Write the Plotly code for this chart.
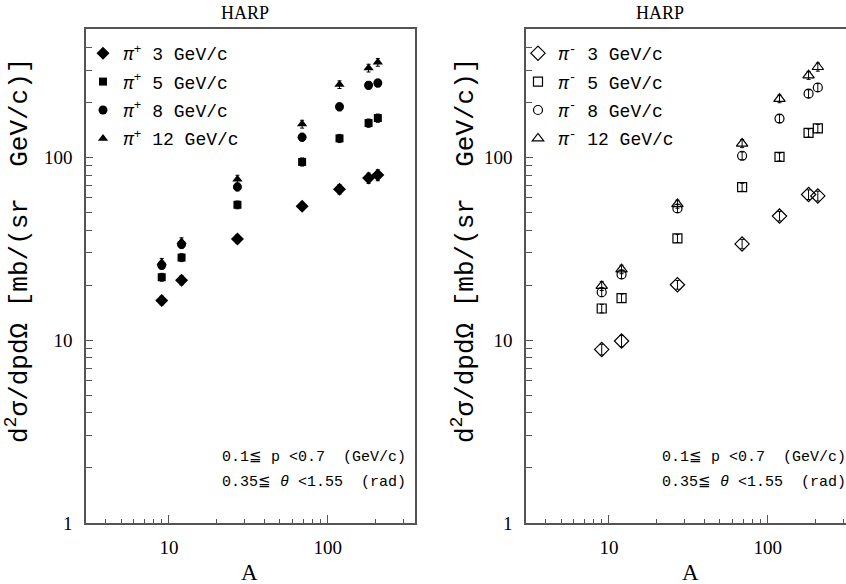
import plotly.graph_objects as go
import math

W, H = 846, 584

# ---- data ----
A = [9, 12, 27, 69, 118.7, 181, 207]

pip3 = [16.5, 21.3, 35.8, 54.0, 67, 77, 80]
pip5 = [22.1, 28.3, 55, 94.4, 127, 154, 164]
pip8 = [25.7, 33.4, 68.9, 129, 189, 248, 255]
pip12 = [26.6, 34.5, 76, 152, 250, 308, 331]

pip3_err = [0.9, 1.2, 1.8, 2.8, 4.0, 5.0, 5.5]
pip5_err = [1.1, 1.4, 2.7, 4.8, 6.5, 8.0, 8.5]
pip8_err = [1.3, 1.7, 3.4, 6.5, 9.5, 12.0, 12.5]
pip12_err = [1.4, 1.8, 3.8, 7.5, 12.0, 15.0, 16.0]

pim3 = [8.9, 9.9, 20.1, 33.6, 47.7, 62.6, 61.5]
pim5 = [14.9, 17.0, 36, 68.7, 100.6, 136, 144]
pim8 = [18.3, 22.9, 52.5, 102, 163, 223, 241]
pim12 = [19.8, 24.4, 55.5, 119, 209, 281, 312]

pim3_err = [0.6, 0.7, 1.1, 2.0, 2.8, 3.8, 3.8]
pim5_err = [0.8, 0.9, 1.8, 3.5, 5.0, 7.0, 7.5]
pim8_err = [1.0, 1.2, 2.6, 5.0, 8.0, 11.0, 12.0]
pim12_err = [1.1, 1.3, 2.8, 6.0, 10.0, 14.0, 16.0]

labels_plus = ["<i>π</i><sup>+</sup> 3 GeV/c", "<i>π</i><sup>+</sup> 5 GeV/c",
               "<i>π</i><sup>+</sup> 8 GeV/c", "<i>π</i><sup>+</sup> 12 GeV/c"]
labels_minus = ["<i>π</i><sup>-</sup> 3 GeV/c", "<i>π</i><sup>-</sup> 5 GeV/c",
                "<i>π</i><sup>-</sup> 8 GeV/c", "<i>π</i><sup>-</sup> 12 GeV/c"]

x_major = [10, 100]
x_minor = [4, 5, 6, 7, 8, 9, 20, 30, 40, 50, 60, 70, 80, 90, 200, 300]
y_major = [1, 10, 100]
y_minor = [2, 3, 4, 5, 6, 7, 8, 9, 20, 30, 40, 50, 60, 70, 80, 90, 200, 300, 400]

# ---- figure ----
fig = go.Figure()

plus_series = [pip3, pip5, pip8, pip12]
plus_errs = [pip3_err, pip5_err, pip8_err, pip12_err]
minus_series = [pim3, pim5, pim8, pim12]
minus_errs = [pim3_err, pim5_err, pim8_err, pim12_err]
filled_symbols = ["diamond", "square", "circle", "triangle-up"]
open_symbols = ["diamond-open", "square-open", "circle-open", "triangle-up-open"]
sizes = [10, 8, 9, 9]
open_sizes = [11, 9, 9, 10]

for i in range(4):
    fig.add_trace(go.Scatter(
        x=A, y=plus_series[i], mode="markers", name=labels_plus[i],
        marker=dict(symbol=filled_symbols[i], size=sizes[i], color="black"),
        error_y=dict(type="data", array=plus_errs[i], color="black", thickness=1, width=2),
        xaxis="x", yaxis="y", legend="legend", legendgroup="p%d" % i))
for i in range(4):
    fig.add_trace(go.Scatter(
        x=A, y=minus_series[i], mode="markers", name=labels_minus[i],
        marker=dict(symbol=open_symbols[i], size=open_sizes[i], color="black",
                    line=dict(width=1.2, color="black")),
        error_y=dict(type="data", array=minus_errs[i], color="black", thickness=1, width=2),
        xaxis="x2", yaxis="y2", legend="legend2", legendgroup="m%d" % i))

def px(x):
    return x / W

def py(y):
    return 1 - y / H

axis_col = "#555555"
tickfont = dict(family="Liberation Serif", size=19, color="black")

common_x = dict(type="log", showgrid=False, zeroline=False, showline=True, linecolor=axis_col,
                linewidth=1.5, mirror=True, ticks="inside", ticklen=8, tickwidth=1, tickcolor=axis_col,
                tickvals=x_major, ticktext=[str(v) for v in x_major], tickfont=tickfont,
                ticklabelstandoff=6, automargin=False,
                minor=dict(ticks="inside", ticklen=4, tickwidth=1, tickcolor=axis_col, tickvals=x_minor))
common_y = dict(type="log", showgrid=False, zeroline=False, showline=True, linecolor=axis_col,
                linewidth=1.5, mirror=True, ticks="inside", ticklen=7, tickwidth=1, tickcolor=axis_col,
                tickvals=y_major, ticktext=[str(v) for v in y_major], tickfont=tickfont,
                ticklabelstandoff=8, range=[0, 2.702], automargin=False,
                minor=dict(ticks="inside", ticklen=6, tickwidth=1, tickcolor=axis_col, tickvals=y_minor))

left_l, left_r = 86, 415
right_l, right_r = 526, 846
top, bottom = 29, 523

fig.update_layout(
    width=W, height=H,
    margin=dict(l=0, r=0, t=0, b=0, pad=0, autoexpand=False),
    paper_bgcolor="white", plot_bgcolor="white",
    xaxis=dict(domain=[px(left_l), px(left_r)], anchor="y",
               range=[math.log10(3), math.log10(3) + (left_r - left_l) / 158.7], **common_x),
    yaxis=dict(domain=[py(bottom), py(top)], anchor="x", **common_y),
    xaxis2=dict(domain=[px(right_l), px(right_r)], anchor="y2",
                range=[math.log10(3), math.log10(3) + (right_r - right_l) / 158.7], **common_x),
    yaxis2=dict(domain=[py(bottom), py(top)], anchor="x2", **common_y),
    legend=dict(x=px(83), y=py(35), xanchor="left", yanchor="top", bgcolor="rgba(0,0,0,0)",
                font=dict(family="Liberation Mono", size=18, color="black"), tracegroupgap=2),
    legend2=dict(x=px(518), y=py(35), xanchor="left", yanchor="top", bgcolor="rgba(0,0,0,0)",
                 font=dict(family="Liberation Mono", size=18, color="black"), tracegroupgap=2),
    showlegend=True,
)

ylab = "d<sup>2</sup>σ/dpdΩ [mb/(sr  GeV/c)]"
annos = []
for off, title_x in [(0, 245), (440, 660)]:
    annos.append(dict(text="HARP", x=px(title_x), y=py(13), xref="paper", yref="paper",
                      showarrow=False, font=dict(family="Liberation Serif", size=18, color="black"),
                      xanchor="center", yanchor="middle"))
    annos.append(dict(text="A", x=px(250 + off), y=py(572), xref="paper", yref="paper",
                      showarrow=False, font=dict(family="Liberation Serif", size=23, color="black"),
                      xanchor="center", yanchor="middle"))
    annos.append(dict(text="0.1≦ p <0.7  (GeV/c)", x=px(408 + off), y=py(457), xref="paper", yref="paper",
                      showarrow=False, font=dict(family="Liberation Mono", size=15, color="black"),
                      xanchor="right", yanchor="middle"))
    annos.append(dict(text="0.35≦ <i>θ</i> <1.55  (rad)", x=px(408 + off), y=py(482), xref="paper", yref="paper",
                      showarrow=False, font=dict(family="Liberation Mono", size=15, color="black"),
                      xanchor="right", yanchor="middle"))
for lx in [18, 464]:
    annos.append(dict(text=ylab, x=px(lx), y=py(251), xref="paper", yref="paper", textangle=-90,
                      showarrow=False, font=dict(family="Liberation Mono", size=26, color="black"),
                      xanchor="center", yanchor="middle"))
fig.update_layout(annotations=annos)

post = (
    "document.documentElement.style.margin='0';"
    "document.documentElement.style.overflow='hidden';"
    "document.body.style.margin='0';"
    "document.body.style.overflow='hidden';"
    "var gd=document.getElementsByClassName('plotly-graph-div')[0];"
    "gd.style.position='fixed';gd.style.left='0px';gd.style.top='0px';"
)
fig.write_html("out.html", config={"displayModeBar": False}, post_script=post)
